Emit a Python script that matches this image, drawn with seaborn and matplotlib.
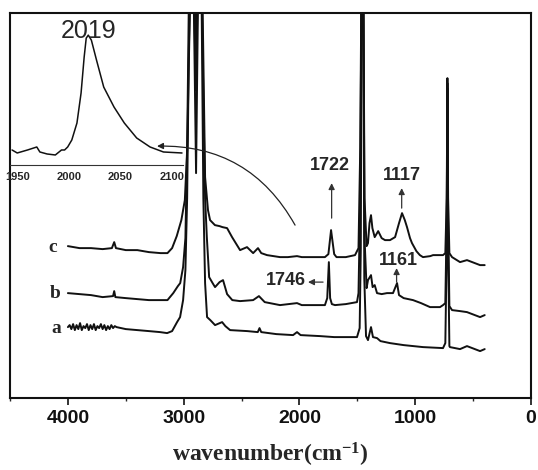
import matplotlib
matplotlib.use("Agg")
import matplotlib.pyplot as plt
from matplotlib.ticker import MultipleLocator
import numpy as np
import pandas as pd
import seaborn as sns

# ---------------- data ----------------
# spectrum c
c_wn = [4000, 3900, 3800, 3700, 3620, 3600, 3585, 3500, 3400, 3300, 3200, 3140, 3100, 3060, 3020,
        2990, 2970, 2955, 2940, 2920, 2895, 2870, 2850, 2840, 2825, 2815, 2790, 2772, 2730, 2690,
        2665, 2625, 2582, 2513, 2453, 2400, 2358, 2330, 2280, 2168, 2100, 2021, 1980, 1822, 1780,
        1750, 1727, 1700, 1680, 1600, 1520, 1490, 1475, 1462, 1450, 1438, 1420, 1408, 1395, 1382,
        1370, 1350, 1320, 1290, 1261, 1218, 1174, 1140, 1114, 1090, 1071, 1045, 1028, 990, 960,
        933, 870, 846, 790, 760, 740, 728, 722, 716, 705, 682, 613, 553, 440, 400]
c_val = [152, 150, 150, 149, 150, 156, 150, 148, 148, 146, 145, 145, 150, 162, 178,
         198, 248, 338, 420, 460, 358, 460, 460, 420, 300, 221, 188, 178, 173, 172,
         171, 170, 161, 148, 151, 145, 150, 145, 143, 141, 141, 142, 141, 141, 141,
         144, 168, 144, 141, 141, 143, 150, 250, 460, 460, 200, 152, 155, 175, 183,
         170, 161, 167, 160, 158, 158, 161, 175, 185, 178, 171, 160, 155, 147, 143,
         141, 142, 143, 143, 143, 145, 200, 320, 200, 145, 141, 136, 138, 133, 133]

# spectrum b
b_wn = [4000, 3900, 3800, 3700, 3610, 3600, 3590, 3500, 3400, 3300, 3200, 3140, 3090, 3050, 3030,
        3005, 2985, 2970, 2955, 2920, 2895, 2870, 2850, 2830, 2815, 2800, 2780, 2750, 2729, 2690,
        2660, 2625, 2580, 2513, 2400, 2350, 2300, 2168, 2021, 1980, 1822, 1780, 1760, 1746, 1735,
        1720, 1693, 1600, 1503, 1490, 1475, 1462, 1450, 1438, 1420, 1408, 1382, 1368, 1350, 1330,
        1290, 1244, 1192, 1157, 1140, 1100, 1019, 950, 872, 786, 760, 740, 728, 722, 716,
        705, 682, 613, 553, 440, 400]
b_val = [105, 104, 103, 101, 102, 107, 101, 100, 99, 98, 98, 98, 105, 112, 115,
         131, 160, 250, 400, 460, 308, 460, 460, 300, 200, 161, 121, 115, 111, 116,
         118, 104, 98, 97, 98, 102, 96, 93, 95, 93, 93, 93, 100, 136, 100,
         94, 93, 94, 96, 105, 200, 460, 460, 160, 110, 118, 123, 111, 113, 105,
         104, 105, 105, 115, 103, 100, 98, 95, 91, 91, 93, 95, 180, 315, 180,
         92, 88, 87, 86, 81, 83]

# spectrum a
a_wn = [4000, 3985, 3970, 3955, 3940, 3925, 3910, 3895, 3880, 3865, 3850, 3835, 3820, 3805, 3790,
        3775, 3760, 3745, 3730, 3715, 3700, 3685, 3670, 3655, 3640, 3625, 3610, 3595, 3580, 3500,
        3400, 3300, 3204, 3143, 3100, 3057, 3031,
        3005, 2985, 2970, 2955, 2935, 2920, 2893, 2870, 2850, 2830, 2815, 2798, 2770, 2729, 2668,
        2640, 2599, 2450, 2360, 2345, 2330, 2200, 2055, 2021, 1990, 1822, 1700, 1600, 1503, 1480,
        1470, 1462, 1450, 1440, 1425, 1408, 1382, 1365, 1330, 1300, 1218, 1100, 933, 760, 740,
        728, 722, 716, 705, 700, 613, 553, 440, 400]
a_val = [71, 73, 69, 74, 68, 73, 69, 75, 68, 72, 70, 74, 68, 73, 69,
         74, 68, 72, 70, 74, 69, 73, 68, 72, 69, 73, 70, 72, 71, 69,
         68, 67, 66, 65, 67, 76, 81,
         98, 128, 200, 350, 460, 460, 225, 460, 460, 200, 115, 81, 78, 73, 76,
         72, 68, 67, 66, 70, 66, 64, 63, 66, 63, 62, 61, 61, 61, 70,
         150, 460, 460, 120, 62, 58, 71, 61, 60, 57, 55, 53, 51, 50, 55,
         150, 310, 150, 52, 51, 49, 52, 47, 49]

# inset spectrum (2019 band)
ins_wn = [1945, 1950, 1960, 1969, 1972, 1979, 1987, 1993, 1996, 1999, 2003, 2008, 2012, 2015, 2017,
          2019, 2022, 2027, 2034, 2044, 2054, 2066, 2079, 2092, 2110]
ins_val = [15, 12, 15, 18, 13, 11, 10, 15, 15, 18, 25, 42, 72, 108, 127,
           130, 125, 105, 78, 58, 42, 27, 18, 13, 12]

curve_labels = ["a", "b", "c"]
label_wn = [4102, 4111, 4128]
label_val = [70, 105, 151]

main_ticks = [4000, 3000, 2000, 1000, 0]
inset_ticks = [1950, 2000, 2050, 2100]

# ---------------- figure ----------------
sns.set_style("white")
plt.rcParams["font.family"] = ["Liberation Sans", "DejaVu Sans"]
plt.rcParams["mathtext.fontset"] = "custom"
plt.rcParams["mathtext.rm"] = "Liberation Serif:bold"
plt.rcParams["mathtext.bf"] = "Liberation Serif:bold"
plt.rcParams["mathtext.default"] = "bf"

fig = plt.figure(figsize=(5.38, 4.70), dpi=100)
ax = fig.add_axes([0.0186, 0.153, 0.9684, 0.819])

for wn, val in [(a_wn, a_val), (b_wn, b_val), (c_wn, c_val)]:
    df = pd.DataFrame({"wn": wn, "val": val})
    sns.lineplot(data=df, x="wn", y="val", sort=False, estimator=None,
                 color="#111111", lw=1.4, ax=ax)

ax.set_xlim(4500, 0)
ax.set_ylim(0, 385)
ax.set_xticks(main_ticks)
ax.set_xticklabels([str(t) for t in main_ticks])
ax.xaxis.set_minor_locator(MultipleLocator(500))
ax.tick_params(axis="x", which="major", direction="out", length=5, width=1.2,
               labelsize=14, pad=3.5, bottom=True, top=False, colors="#111111")
ax.tick_params(axis="x", which="minor", direction="out", length=2.5, width=1.0,
               bottom=True, top=False)
ax.tick_params(axis="y", left=False, labelleft=False)
for lab in ax.get_xticklabels():
    lab.set_fontweight("bold")
ax.set_ylabel("")
ax.set_xlabel("wavenumber(cm$^{-1}$)", fontsize=17, fontweight="bold",
              family="Liberation Serif", labelpad=10)
for s in ax.spines.values():
    s.set_linewidth(1.5)
    s.set_color("#111111")

for t, x, y in zip(curve_labels, label_wn, label_val):
    ax.text(x, y, t, fontsize=14, fontweight="bold", family="Liberation Serif",
            ha="center", va="center")

arr = dict(arrowstyle="-|>", lw=0.9, color="#333333", mutation_scale=9,
           shrinkA=0, shrinkB=0)
ax.annotate("", xy=(1722, 215), xytext=(1722, 180), arrowprops=arr)
ax.text(1735, 233, "1722", fontsize=13, fontweight="bold", ha="center", va="center")
ax.annotate("", xy=(1117, 210), xytext=(1117, 190), arrowprops=arr)
ax.text(1114, 223, "1117", fontsize=13, fontweight="bold", ha="center", va="center")
ax.annotate("", xy=(1926, 116), xytext=(1796, 116), arrowprops=arr)
ax.text(1945, 118, "1746", fontsize=13, fontweight="bold", ha="right", va="center")
ax.annotate("", xy=(1161, 130), xytext=(1161, 116), arrowprops=arr)
ax.text(1149, 138, "1161", fontsize=13, fontweight="bold", ha="center", va="center")

# curved arrow from the spectrum to the inset
ax.annotate("", xy=(3230, 252), xytext=(2038, 173),
            arrowprops=dict(arrowstyle="-|>", lw=0.9, color="#222222", mutation_scale=9,
                            shrinkA=0, shrinkB=0, connectionstyle="arc3,rad=0.3"),
            zorder=5)

# ---------------- inset ----------------
axi = fig.add_axes([0.0186, 0.649, 0.3216, 0.323])
axi.set_facecolor("none")
dfi = pd.DataFrame({"wn": ins_wn, "val": ins_val})
sns.lineplot(data=dfi, x="wn", y="val", sort=False, estimator=None,
             color="#111111", lw=1.1, ax=axi)
axi.set_xlim(1943, 2111)
axi.set_ylim(0, 152)
axi.set_xticks(inset_ticks)
axi.set_xticklabels([str(t) for t in inset_ticks])
axi.xaxis.set_minor_locator(MultipleLocator(10))
axi.tick_params(axis="x", which="major", direction="out", length=3, width=0.8,
                labelsize=8, pad=2)
axi.tick_params(axis="x", which="minor", direction="out", length=1.5, width=0.6)
axi.tick_params(axis="y", left=False, labelleft=False)
for lab in axi.get_xticklabels():
    lab.set_fontweight("bold")
axi.set_xlabel("")
axi.set_ylabel("")
for k in ["left", "right", "top"]:
    axi.spines[k].set_visible(False)
axi.spines["bottom"].set_linewidth(0.8)
axi.spines["bottom"].set_color("#333333")
axi.text(2019, 134, "2019", fontsize=18, ha="center", va="center")

fig.savefig("out.png", dpi=100)
